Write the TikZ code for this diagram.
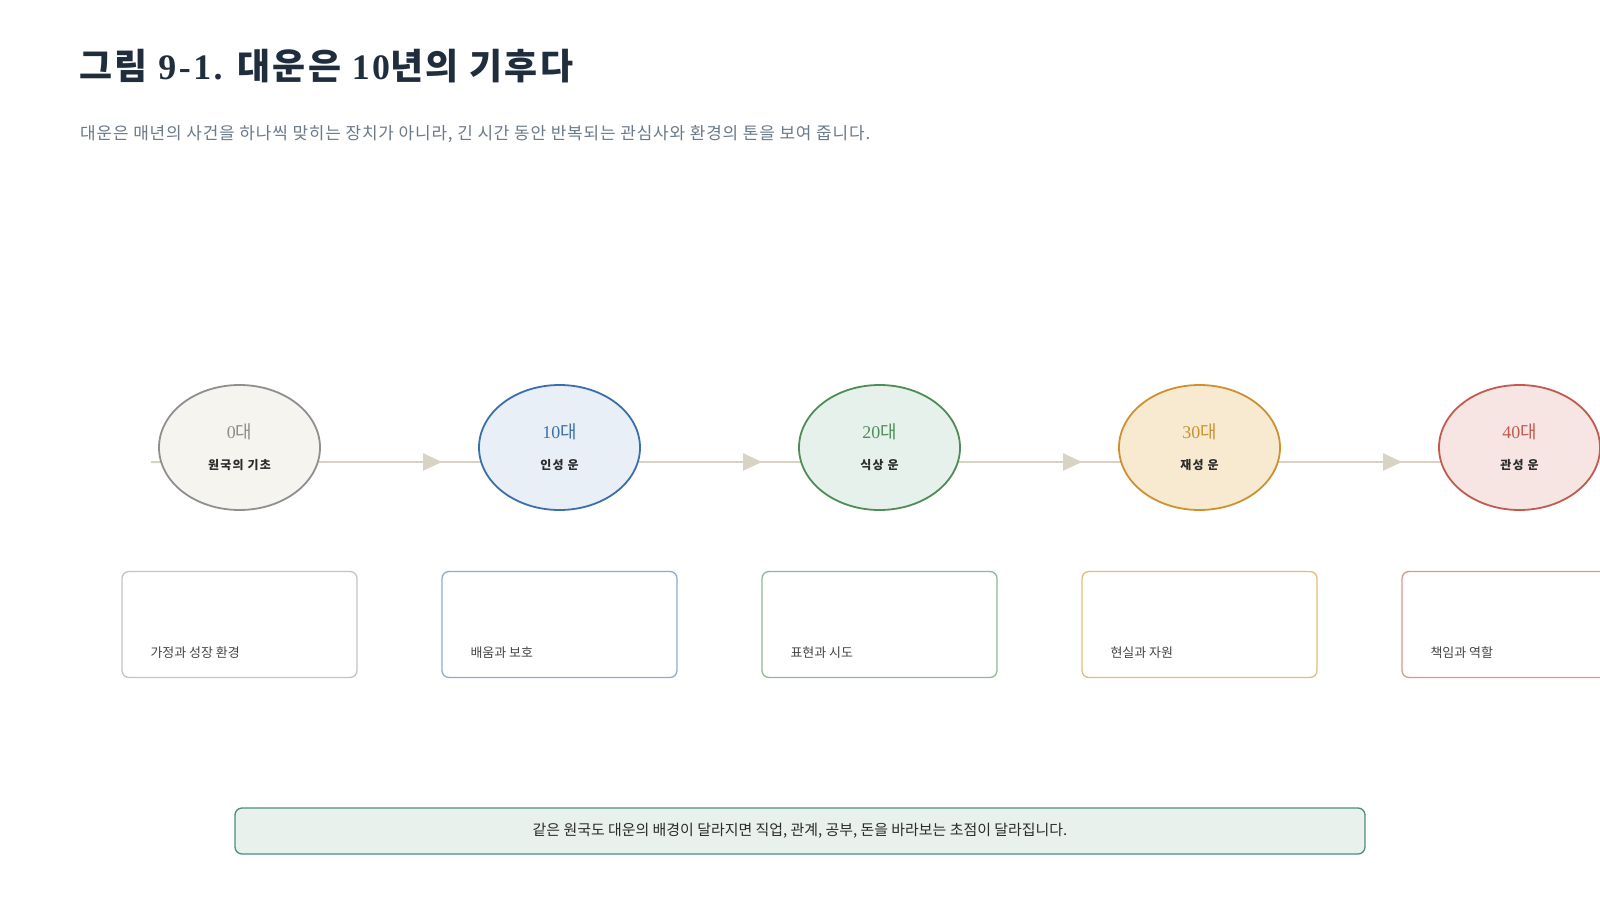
\documentclass[tikz,border=0pt]{standalone}
\usepackage{fontspec}
\setmainfont{Noto Sans CJK KR}
\newfontfamily\serifnum{Liberation Serif}
\newfontfamily\labfont{Noto Sans CJK KR}[LetterSpace=10]
\newfontfamily\titlefont{Noto Sans CJK KR}[LetterSpace=7]
\newfontfamily\titlenum{Liberation Serif}[LetterSpace=7]
\newfontfamily\subfont{Noto Sans CJK KR}[LetterSpace=5]
\usetikzlibrary{shapes.geometric,backgrounds,decorations.markings,arrows.meta,calc}
\definecolor{titlec}{HTML}{1F2D3D}
\definecolor{subc}{HTML}{6B7A89}
\definecolor{linec}{HTML}{D9D3C6}
\definecolor{darkt}{HTML}{2B2B2B}
\definecolor{cardt}{HTML}{454545}
\definecolor{s0}{HTML}{8F8F8F}\definecolor{f0}{HTML}{F5F4EF}\definecolor{t0}{HTML}{8C8C8C}\definecolor{b0}{HTML}{C4C4C4}
\definecolor{s1}{HTML}{3C6EAA}\definecolor{f1}{HTML}{E8EFF7}\definecolor{t1}{HTML}{3C6EAA}\definecolor{b1}{HTML}{8FABD0}
\definecolor{s2}{HTML}{4F8C58}\definecolor{f2}{HTML}{E7F1EB}\definecolor{t2}{HTML}{4F8C58}\definecolor{b2}{HTML}{93B698}
\definecolor{s3}{HTML}{CC922F}\definecolor{f3}{HTML}{F7EAD0}\definecolor{t3}{HTML}{CC922F}\definecolor{b3}{HTML}{E3BC7C}
\definecolor{s4}{HTML}{C25A4E}\definecolor{f4}{HTML}{F6E5E2}\definecolor{t4}{HTML}{C25A4E}\definecolor{b4}{HTML}{DC968C}
\definecolor{footf}{HTML}{E8F1EC}
\definecolor{footd}{HTML}{4A8F80}
\begin{document}
\begin{tikzpicture}[x=1bp,y=-1bp,
  circ/.style={ellipse, minimum width=161bp, minimum height=125bp, inner sep=0pt, line width=1.8bp},
  numtxt/.style={inner sep=0pt, font=\fontsize{18}{20}\selectfont},
  labtxt/.style={inner sep=0pt, text=darkt, font=\labfont\bfseries\fontsize{12}{14}\selectfont},
  card/.style={rectangle, rounded corners=7bp, minimum width=235bp, minimum height=106bp, line width=1.3bp, fill=white},
  cardtxt/.style={inner sep=0pt, text=cardt, font=\fontsize{13}{15}\selectfont},
  conn/.style={draw=linec, line width=2bp},
  arrowmid/.style={postaction={decorate}, decoration={markings, mark=at position 0.633 with {\arrow[linec]{Triangle[length=19bp,width=17bp]}}}},
  foot/.style={rectangle, rounded corners=7bp, minimum width=1130bp, minimum height=46bp, line width=1.3bp, fill=footf, draw=footd, text=darkt, font=\fontsize{15}{17}\selectfont}
]
\useasboundingbox (0,0) rectangle (1600,900);
\clip (0,0) rectangle (1600,900);

\node[anchor=base west, inner sep=0pt, text=titlec, font=\titlefont\bfseries\fontsize{36}{40}\selectfont] (title) at (79,79)
  {그림 {\titlenum\bfseries 9-1.} 대운은 {\titlenum\bfseries 10}년의 기후다};
\node[anchor=west, inner sep=0pt, text=subc, font=\subfont\fontsize{17}{19}\selectfont] (sub) at (80,134)
  {대운은 매년의 사건을 하나씩 맞히는 장치가 아니라, 긴 시간 동안 반복되는 관심사와 환경의 톤을 보여 줍니다.};

\foreach \i/\n/\lab/\boxt in {0/0/원국의 기초/가정과 성장 환경, 1/10/인성 운/배움과 보호, 2/20/식상 운/표현과 시도, 3/30/재성 운/현실과 자원, 4/40/관성 운/책임과 역할}{
  \node[circ, draw=s\i, fill=f\i] (c\i) at (239.5+320*\i, 447.5) {};
  \node[numtxt, text=t\i] (n\i) at (239.5+320*\i, 432) {{\serifnum\n}대};
  \node[labtxt] (l\i) at (239.5+320*\i, 465) {\lab};
  \node[card, draw=b\i] (b\i) at (239.5+320*\i, 624.5) {};
  \node[cardtxt, anchor=west] (bt\i) at ($(b\i.south west)+(29,-26)$) {\boxt};
}

\node[foot] (ft) at (800,831) {같은 원국도 대운의 배경이 달라지면 직업, 관계, 공부, 돈을 바라보는 초점이 달라집니다.};

\begin{pgfonlayer}{background}
  \fill[white] (0,0) rectangle (1600,900);
  \coordinate (ls) at (151,462);
  \draw[conn] (ls) -- ([yshift=-14.5bp]c0.center);
  \foreach \i/\j in {0/1,1/2,2/3,3/4}
    \draw[conn, arrowmid] ([yshift=-14.5bp]c\i.center) -- ([yshift=-14.5bp]c\j.center);
\end{pgfonlayer}
\end{tikzpicture}
\end{document}
